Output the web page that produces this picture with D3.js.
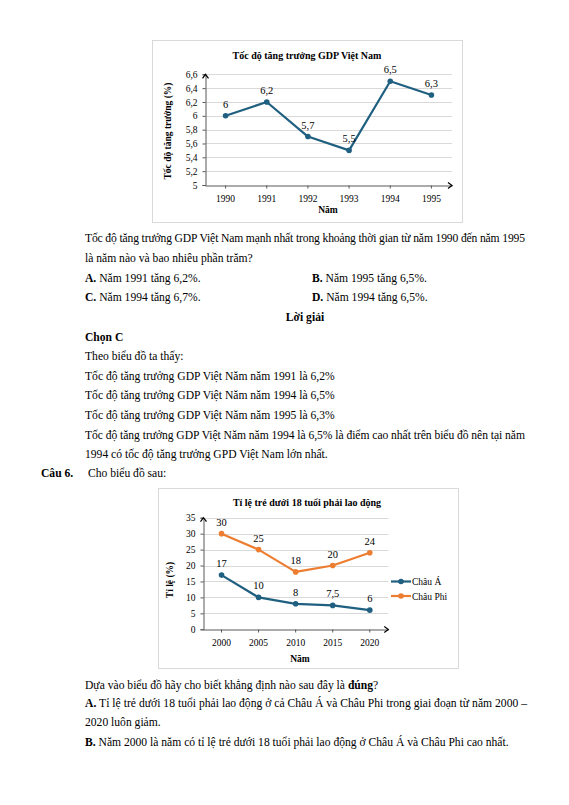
<!DOCTYPE html>
<html>
<head>
<meta charset="utf-8">
<script src="https://cdn.jsdelivr.net/npm/d3@7"></script>
<style>
html,body{margin:0;padding:0;background:#fff;}
svg{display:block;}
text{font-family:"Liberation Serif","Times New Roman",serif;fill:#000;}
</style>
</head>
<body>
<svg id="page" width="569" height="805"></svg>
<script>
// ---- Data ----
const gdpYears = ["1990", "1991", "1992", "1993", "1994", "1995"];
const gdpValues = [6, 6.2, 5.7, 5.5, 6.5, 6.3];
const gdpTicks = [5, 5.2, 5.4, 5.6, 5.8, 6, 6.2, 6.4, 6.6];

const laborYears = ["2000", "2005", "2010", "2015", "2020"];
const asiaValues = [17, 10, 8, 7.5, 6];
const africaValues = [30, 25, 18, 20, 24];
const laborTicks = [0, 5, 10, 15, 20, 25, 30, 35];
const seriesNames = ["Châu Á", "Châu Phi"];

const fmt = d => String(d).replace(".", ",");
const BLUE = "#1f5f80", ORANGE = "#ed7d31", GRID = "#d9d9d9", AXIS = "#595959";
const SERIF = "'Liberation Serif','Times New Roman',serif";

const svg = d3.select("#page");
svg.append("rect").attr("width", 569).attr("height", 805).attr("fill", "#fff");

function lineChart(cfg) {
  const g = svg.append("g");
  g.append("rect").attr("x", cfg.frame[0] + 0.5).attr("y", cfg.frame[1] + 0.5)
    .attr("width", cfg.frame[2]).attr("height", cfg.frame[3])
    .attr("fill", "#fff").attr("stroke", GRID);
  g.append("text").attr("x", cfg.titleX).attr("y", cfg.titleY).attr("text-anchor", "middle")
    .attr("font-weight", "bold").attr("font-size", 10).text(cfg.title);

  const x = d3.scaleBand().domain(cfg.cats).range([cfg.x0, cfg.x1]);
  const y = d3.scaleLinear().domain(cfg.yDomain).range([cfg.y0, cfg.y1]);
  const cx = c => x(c) + x.bandwidth() / 2;

  // gridlines
  g.selectAll(".grid").data(cfg.ticks.slice(1)).join("line")
    .attr("x1", cfg.x0).attr("x2", cfg.x1)
    .attr("y1", d => Math.round(y(d)) + 0.5).attr("y2", d => Math.round(y(d)) + 0.5)
    .attr("stroke", GRID).attr("stroke-width", 1);

  // y axis
  const yAxis = d3.axisLeft(y).tickValues(cfg.ticks).tickSize(3).tickPadding(5).tickFormat(fmt);
  const ya = g.append("g").attr("transform", `translate(${Math.round(cfg.x0) + 0.5},0)`).call(yAxis)
    .attr("font-family", SERIF);
  ya.select(".domain").attr("stroke", AXIS);
  ya.selectAll(".tick line").attr("stroke", AXIS);
  ya.selectAll(".tick text").attr("font-size", 9.5).attr("fill", "#000");

  // x axis
  const xAxis = d3.axisBottom(x).tickSize(3).tickPadding(7).tickSizeOuter(0);
  const xa = g.append("g").attr("transform", `translate(0,${Math.round(cfg.y0) + 0.5})`).call(xAxis)
    .attr("font-family", SERIF);
  xa.select(".domain").attr("stroke", AXIS);
  xa.selectAll(".tick line").attr("stroke", AXIS);
  xa.selectAll(".tick text").attr("font-size", 9.5).attr("fill", "#000");

  // arrows
  const ax = Math.round(cfg.x0) + 0.5, ay = Math.round(cfg.y0) + 0.5;
  g.append("path").attr("d", `M${ax - 3},${cfg.y1 + 4} L${ax},${cfg.y1} L${ax + 3},${cfg.y1 + 4}`)
    .attr("fill", "none").attr("stroke", "#000").attr("stroke-width", 1.2);
  g.append("path").attr("d", `M${cfg.x1 - 4},${ay - 3} L${cfg.x1},${ay} L${cfg.x1 - 4},${ay + 3}`)
    .attr("fill", "none").attr("stroke", "#000").attr("stroke-width", 1.2);

  // axis titles
  g.append("text").attr("x", cfg.xTitle[0]).attr("y", cfg.xTitle[1]).attr("text-anchor", "middle")
    .attr("font-weight", "bold").attr("font-size", 9.5).text("Năm");
  g.append("text").attr("transform", `translate(${cfg.yTitle[0]},${cfg.yTitle[1]}) rotate(-90)`)
    .attr("text-anchor", "middle").attr("font-weight", "bold").attr("font-size", 9.5).text(cfg.yLabel);

  // series
  cfg.series.forEach(s => {
    const line = d3.line().x((d, i) => cx(cfg.cats[i])).y(d => y(d));
    g.append("path").datum(s.values).attr("d", line).attr("fill", "none")
      .attr("stroke", s.color).attr("stroke-width", 2.2).attr("stroke-linejoin", "round");
    g.selectAll(null).data(s.values).join("circle")
      .attr("cx", (d, i) => cx(cfg.cats[i])).attr("cy", d => y(d)).attr("r", 2.8).attr("fill", s.color);
    g.selectAll(null).data(s.values).join("text")
      .attr("x", (d, i) => cx(cfg.cats[i])).attr("y", d => y(d) - 8)
      .attr("text-anchor", "middle").attr("font-size", 10.5).text(fmt);
  });

  if (cfg.legend) {
    cfg.series.forEach((s, i) => {
      const ly = cfg.legend[1] + i * cfg.legend[2];
      g.append("line").attr("x1", cfg.legend[0]).attr("x2", cfg.legend[0] + 20)
        .attr("y1", ly).attr("y2", ly).attr("stroke", s.color).attr("stroke-width", 2.2);
      g.append("circle").attr("cx", cfg.legend[0] + 10).attr("cy", ly).attr("r", 2.8).attr("fill", s.color);
      g.append("text").attr("x", cfg.legend[0] + 21).attr("y", ly + 3.5).attr("font-size", 9.5).text(s.name);
    });
  }
}

lineChart({
  frame: [152, 40, 310, 182], title: "Tốc độ tăng trưởng GDP Việt Nam", titleX: 307, titleY: 59,
  cats: gdpYears, x0: 205, x1: 452, yDomain: [5, 6.6], y0: 185, y1: 74.3, ticks: gdpTicks,
  xTitle: [328, 213], yTitle: [171, 131], yLabel: "Tốc độ tăng trưởng (%)",
  series: [{ name: "GDP", values: gdpValues, color: BLUE }]
});

lineChart({
  frame: [158, 488, 300, 180], title: "Tỉ lệ trẻ dưới 18 tuổi phải lao động", titleX: 307, titleY: 505.5,
  cats: laborYears, x0: 203, x1: 388.3, yDomain: [0, 35], y0: 629.3, y1: 517.7, ticks: laborTicks,
  xTitle: [300, 662], yTitle: [173, 580], yLabel: "Tỉ lệ (%)",
  series: [{ name: seriesNames[0], values: asiaValues, color: BLUE },
           { name: seriesNames[1], values: africaValues, color: ORANGE }],
  legend: [391, 581.5, 14.5]
});

// ---- Body text ----
const FS = 11.6;
function para(xp, yp, parts, opts = {}) {
  const t = svg.append("text").attr("x", xp).attr("y", yp).attr("font-size", FS);
  if (opts.anchor) t.attr("text-anchor", opts.anchor);
  if (opts.len) t.attr("textLength", opts.len).attr("lengthAdjust", "spacing");
  parts.forEach(p => {
    const s = t.append("tspan").text(p[0]);
    if (p[1]) s.attr("font-weight", "bold");
  });
}
para(85, 242, [["Tốc độ tăng trưởng GDP Việt Nam mạnh nhất trong khoảng thời gian từ năm 1990 đến năm 1995"]], { len: 440 });
para(85, 262, [["là năm nào và bao nhiêu phần trăm?"]]);
para(85, 281.5, [["A.", 1], [" Năm 1991 tăng 6,2%."]]);
para(312, 281.5, [["B.", 1], [" Năm 1995 tăng 6,5%."]]);
para(85, 300.5, [["C.", 1], [" Năm 1994 tăng 6,7%."]]);
para(312, 300.5, [["D.", 1], [" Năm 1994 tăng 6,5%."]]);
para(305, 320.5, [["Lời giải", 1]], { anchor: "middle" });
para(85, 340.5, [["Chọn C", 1]]);
para(85, 360, [["Theo biểu đồ ta thấy:"]]);
para(85, 380, [["Tốc độ tăng trưởng GDP Việt Năm năm 1991 là 6,2%"]]);
para(85, 399, [["Tốc độ tăng trưởng GDP Việt Năm năm 1994 là 6,5%"]]);
para(85, 419, [["Tốc độ tăng trưởng GDP Việt Năm năm 1995 là 6,3%"]]);
para(85, 439, [["Tốc độ tăng trưởng GDP Việt Năm năm 1994 là 6,5% là điểm cao nhất trên biểu đồ nên tại năm"]], { len: 440 });
para(85, 458, [["1994 có tốc độ tăng trưởng GPD Việt Nam lớn nhất."]]);
para(41, 477, [["Câu 6.", 1]]);
para(88, 477, [["Cho biểu đồ sau:"]]);
para(85, 689, [["Dựa vào biểu đồ hãy cho biết khẳng định nào sau đây là "], ["đúng", 1], ["?"]]);
para(85, 707, [["A.", 1], [" Tỉ lệ trẻ dưới 18 tuổi phải lao động ở cả Châu Á và Châu Phi trong giai đoạn từ năm 2000 –"]], { len: 442 });
para(85, 726, [["2020 luôn giảm."]]);
para(85, 746, [["B.", 1], [" Năm 2000 là năm có tỉ lệ trẻ dưới 18 tuổi phải lao động ở Châu Á và Châu Phi cao nhất."]]);
</script>
</body>
</html>
